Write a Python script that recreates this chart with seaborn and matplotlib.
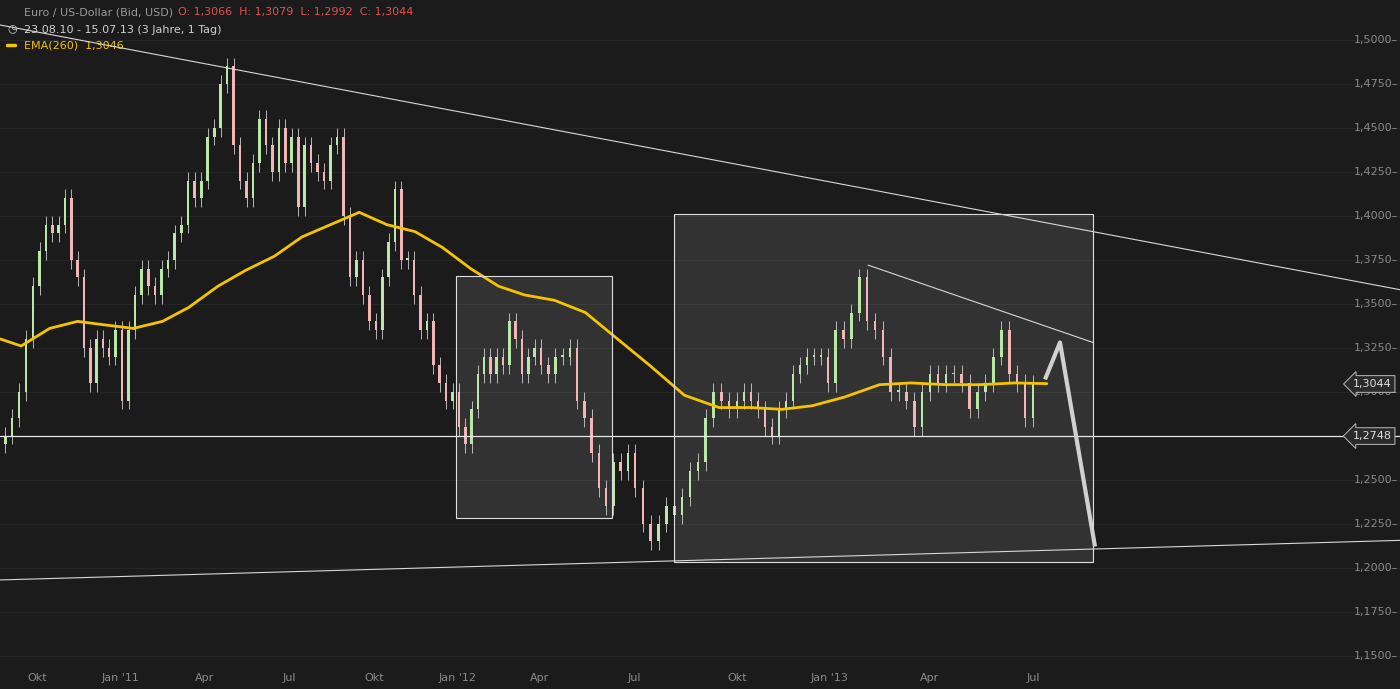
import numpy as np
import pandas as pd
import matplotlib
matplotlib.use("Agg")
import matplotlib.pyplot as plt
import matplotlib.dates as mdates
import seaborn as sns

# weekly closes, EUR/USD, from 2010-08-23
closes = [1.270, 1.275, 1.285, 1.300, 1.330, 1.360, 1.380, 1.395, 1.390, 1.395, 1.410, 1.375, 1.365, 1.325, 1.305, 1.330, 1.325, 1.320, 1.335,
          1.295, 1.335, 1.355, 1.370, 1.360, 1.355, 1.370, 1.375, 1.390, 1.395, 1.420, 1.410, 1.420, 1.445, 1.450, 1.475,
          1.485, 1.440, 1.420, 1.410, 1.430, 1.455, 1.440, 1.425, 1.450, 1.430, 1.445, 1.405, 1.440, 1.430,
          1.425, 1.420, 1.440, 1.445, 1.400, 1.365, 1.375, 1.355, 1.340, 1.335, 1.365, 1.385, 1.415,
          1.375, 1.375, 1.355, 1.335, 1.340, 1.315, 1.305, 1.295, 1.300,
          1.280, 1.270, 1.290, 1.310, 1.320, 1.310, 1.320, 1.315, 1.340, 1.330, 1.310, 1.320, 1.325,
          1.315, 1.310, 1.320, 1.320, 1.325, 1.295, 1.285, 1.265, 1.245, 1.235, 1.260, 1.255, 1.265,
          1.245, 1.225, 1.215, 1.225, 1.235, 1.230, 1.240, 1.255, 1.260, 1.285, 1.300, 1.295, 1.290,
          1.295, 1.300, 1.295, 1.290, 1.280, 1.275, 1.290, 1.295, 1.310, 1.315, 1.320, 1.320, 1.320,
          1.305, 1.335, 1.330, 1.345, 1.365, 1.340, 1.335, 1.320, 1.300, 1.300, 1.295, 1.280,
          1.300, 1.310, 1.305, 1.310, 1.310, 1.305, 1.290, 1.300, 1.305, 1.320, 1.335, 1.310,
          1.305, 1.285, 1.3044]
first_open = 1.262
ema_dates = ["2010-08-25", "2010-09-15", "2010-10-15", "2010-11-15", "2010-12-15", "2011-01-15", "2011-02-15",
             "2011-03-15", "2011-04-15", "2011-05-15", "2011-06-15", "2011-07-15", "2011-08-15", "2011-09-15",
             "2011-10-15", "2011-11-15", "2011-12-15", "2012-01-15", "2012-02-15", "2012-03-15", "2012-04-15",
             "2012-05-15", "2012-06-15", "2012-07-15", "2012-08-15", "2012-09-15", "2012-10-15", "2012-11-15",
             "2012-12-15", "2013-01-15", "2013-02-15", "2013-03-15", "2013-04-15", "2013-05-15", "2013-06-15",
             "2013-07-15"]
ema_vals = [1.330, 1.326, 1.336, 1.340, 1.338, 1.336, 1.340, 1.348, 1.360, 1.369, 1.377, 1.388, 1.395, 1.402,
            1.395, 1.391, 1.382, 1.370, 1.360, 1.355, 1.352, 1.345, 1.330, 1.315, 1.298, 1.291, 1.291, 1.290,
            1.292, 1.297, 1.304, 1.305, 1.304, 1.304, 1.305, 1.3046]
y_ticks = [1.15, 1.175, 1.2, 1.225, 1.25, 1.3, 1.325, 1.35, 1.375, 1.4, 1.425, 1.45, 1.475, 1.5]
x_ticks = ["2010-10-01", "2011-01-01", "2011-04-01", "2011-07-01", "2011-10-01", "2012-01-01", "2012-04-01",
           "2012-07-01", "2012-10-01", "2013-01-01", "2013-04-01", "2013-07-01"]
x_labels = ["Okt", "Jan '11", "Apr", "Jul", "Okt", "Jan '12", "Apr", "Jul", "Okt", "Jan '13", "Apr", "Jul"]
# screen position of each month label (trading-day axis, not calendar)
x_tick_pos = [37, 120, 205, 289, 374, 458, 540, 634, 737, 829, 930, 1033]

tick_num = mdates.date2num(pd.to_datetime(x_ticks))
slope = (x_tick_pos[-1] - x_tick_pos[0]) / (tick_num[-1] - tick_num[0])
def X(dates):
    n = np.atleast_1d(mdates.date2num(pd.to_datetime(dates)))
    out = np.interp(n, tick_num, x_tick_pos)
    out = np.where(n < tick_num[0], x_tick_pos[0] + (n - tick_num[0]) * slope, out)
    out = np.where(n > tick_num[-1], x_tick_pos[-1] + (n - tick_num[-1]) * slope, out)
    return out

sns.set_theme(style="dark")
bg = "#1b1b1b"
fig = plt.figure(figsize=(14, 6.89), dpi=100, facecolor=bg)
ax = fig.add_axes([0, 0, 1, 1], facecolor=bg)

dates = pd.date_range("2010-08-23", periods=len(closes), freq="7D")
x = X(dates)
opens = [first_open] + closes[:-1]
for xi, o, c in zip(x, opens, closes):
    col = "#b9e8a6" if c >= o else "#f2b6b6"
    ax.vlines(xi, min(o, c) - 0.005, max(o, c) + 0.005, color="#cfcfcf", lw=0.6, zorder=3)
    ax.bar(xi, abs(c - o) or 0.0008, bottom=min(o, c), width=2.6, color=col, zorder=4, lw=0)

sns.lineplot(x=X(ema_dates), y=ema_vals, ax=ax, color="#f5c400", lw=2, zorder=5)

# drawn annotations (screen columns)
for x0, x1, y0, y1 in [(456, 612, 1.228, 1.366), (674, 1093, 1.203, 1.401)]:
    ax.add_patch(plt.Rectangle((x0, y0), x1 - x0, y1 - y0, fc="#ffffff", alpha=0.1, ec="none", zorder=1))
    ax.add_patch(plt.Rectangle((x0, y0), x1 - x0, y1 - y0, fill=False, ec="#e0e0e0", lw=0.8, zorder=6))
ax.plot([0, 1400], [1.5085, 1.358], color="#d8d8d8", lw=0.8, zorder=6)
ax.plot([0, 1400], [1.193, 1.2155], color="#d8d8d8", lw=0.8, zorder=6)
ax.plot([868, 1093], [1.372, 1.328], color="#d8d8d8", lw=0.8, zorder=6)
ax.axhline(1.2748, color="#e8e8e8", lw=0.9, zorder=6)
ax.plot([1045, 1060, 1095], [1.307, 1.328, 1.212], color="#d0d0d0", lw=3, zorder=7, solid_capstyle="butt")

ax.set_xlim(0, 1400)
ax.set_ylim(1.131, 1.5227)
ax.set_yticks(y_ticks + [1.275])
ax.set_yticklabels([])
ax.set_xticks([])
ax.grid(True, axis="y", color="#262626", lw=0.8)
for s in ax.spines.values():
    s.set_visible(False)

for v in y_ticks:
    ax.text(0.9985, v, ("%.4f" % v).replace(".", ",") + "–", transform=ax.get_yaxis_transform(),
            ha="right", va="center", color="#8a8a8a", fontsize=8)
for xp, lab in zip(x_tick_pos, x_labels):
    ax.text(xp, 0.008, lab, transform=ax.get_xaxis_transform(),
            ha="center", va="bottom", color="#8a8a8a", fontsize=8)
for v, lab in [(1.3044, "1,3044"), (1.2748, "1,2748")]:
    ax.text(0.994, v, lab, transform=ax.get_yaxis_transform(), ha="right", va="center", color="#e0e0e0",
            fontsize=8, zorder=9, bbox=dict(boxstyle="larrow,pad=0.3", fc="#2a2a2a", ec="#bbbbbb", lw=0.7))

ax.text(0.017, 0.982, "Euro / US-Dollar (Bid, USD)", transform=ax.transAxes, color="#9a9a9a", fontsize=8, va="center")
ax.text(0.127, 0.982, "O: 1,3066  H: 1,3079  L: 1,2992  C: 1,3044", transform=ax.transAxes, color="#e05050", fontsize=8, va="center")
ax.text(0.017, 0.957, "23.08.10 - 15.07.13 (3 Jahre, 1 Tag)", transform=ax.transAxes, color="#d0d0d0", fontsize=8, va="center")
ax.text(0.005, 0.957, "◷", transform=ax.transAxes, color="#d0d0d0", fontsize=8, va="center")
ax.plot([0.005, 0.011], [0.934, 0.934], transform=ax.transAxes, color="#f5c400", lw=2.5)
ax.text(0.017, 0.934, "EMA(260)  1,3046", transform=ax.transAxes, color="#f5c400", fontsize=8, va="center")

fig.savefig("out.png", dpi=100, facecolor=bg)
